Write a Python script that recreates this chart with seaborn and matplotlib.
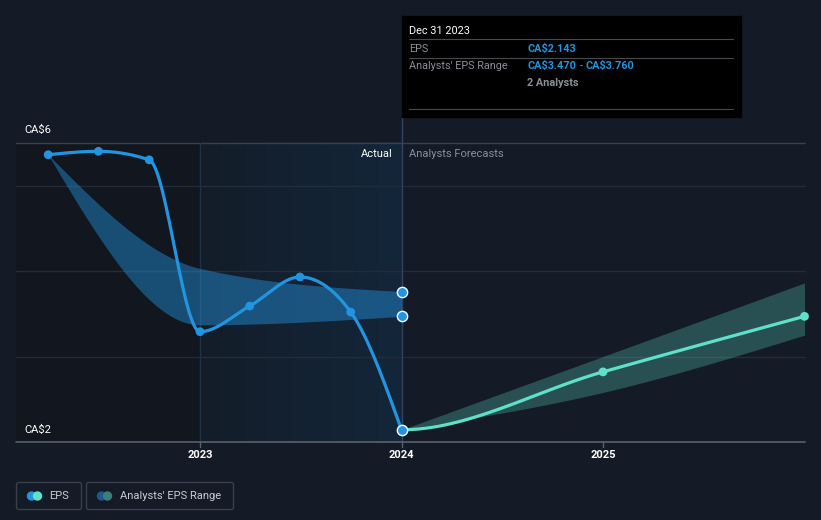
import numpy as np
import pandas as pd
import matplotlib
matplotlib.use("Agg")
import matplotlib.pyplot as plt
from matplotlib.patches import Rectangle, FancyBboxPatch, Circle
import seaborn as sns

# EPS history (CA$)
eps_dates = ["2022-03-31", "2022-06-30", "2022-09-30", "2022-12-31",
             "2023-03-31", "2023-06-30", "2023-09-30", "2023-12-31"]
eps_values = [5.36, 5.40, 5.30, 3.29, 3.59, 3.93, 3.52, 2.143]

# analysts' past EPS range
range_dates = ["2022-03-31", "2022-12-31", "2023-12-31"]
range_low = [5.36, 3.37, 3.47]
range_high = [5.36, 4.03, 3.76]

# analysts' forecasts
fc_dates = ["2023-12-31", "2024-12-31", "2025-12-31"]
fc_values = [2.143, 2.82, 3.47]
fc_low = [2.143, 2.58, 3.25]
fc_high = [2.143, 3.00, 3.86]

year_ticks = [2023, 2024, 2025]

BG = "#151b26"
BLUE = "#2394df"
TEAL = "#5ee0c9"
GREY = "#8a8f98"


def dec_year(dates):
    d = pd.to_datetime(pd.Series(dates))
    return (d.dt.year + d.dt.dayofyear / np.where(d.dt.is_leap_year, 366, 365)).to_numpy()


def monotone(xs, ys, n=60, flat_start=False):
    # d3 curveMonotoneX style smoothing
    xs = np.asarray(xs, float)
    ys = np.asarray(ys, float)
    h = np.diff(xs)
    s = np.diff(ys) / h
    t = np.zeros(len(xs))
    sg = lambda v: -1.0 if v < 0 else 1.0
    for i in range(1, len(xs) - 1):
        p = (s[i - 1] * h[i] + s[i] * h[i - 1]) / (h[i - 1] + h[i])
        t[i] = (sg(s[i - 1]) + sg(s[i])) * min(abs(s[i - 1]), abs(s[i]), 0.5 * abs(p))
    t[0] = 0 if flat_start else (3 * s[0] - t[1]) / 2
    t[-1] = (3 * s[-1] - t[-2]) / 2
    ox, oy = [], []
    for i in range(len(xs) - 1):
        u = np.linspace(0, 1, n)
        h00 = 2 * u**3 - 3 * u**2 + 1
        h10 = u**3 - 2 * u**2 + u
        h01 = -2 * u**3 + 3 * u**2
        h11 = u**3 - u**2
        ox.append(xs[i] + u * h[i])
        oy.append(h00 * ys[i] + h10 * h[i] * t[i] + h01 * ys[i + 1] + h11 * h[i] * t[i + 1])
    return np.concatenate(ox), np.concatenate(oy)


eps_x = dec_year(eps_dates)
rng_x = dec_year(range_dates)
fc_x = dec_year(fc_dates)

sns.set_theme(style="dark")
plt.rcParams["font.family"] = ["Roboto", "DejaVu Sans"]

fig = plt.figure(figsize=(8.21, 5.2), dpi=100, facecolor=BG)
ax = fig.add_axes([0, 0, 1, 1])
ax.set_facecolor(BG)

# pixel <-> data mapping
px_per_year, px_per_unit = 201.5, 85.5
xmin, xmax = 2023 - 200 / px_per_year, 2023 + 621 / px_per_year
ymin, ymax = 2 - 78 / px_per_unit, 2 + 442 / px_per_unit
X = lambda px: 2023 + (px - 200) / px_per_year
Y = lambda py: 2 + (442 - py) / px_per_unit
top, bot = 5.5, 2.0

# past / last-year shading
ax.add_patch(Rectangle((X(16), bot), X(200) - X(16), top - bot, color="#12161e", zorder=0))
grad = np.linspace(0, 1, 256)
c0, c1 = np.array([0x14, 0x1d, 0x29]) / 255, np.array([0x13, 0x26, 0x3a]) / 255
img = (c0[None, :] * (1 - grad[:, None]) + c1[None, :] * grad[:, None])[None, :, :]
ax.imshow(img, extent=[2023, 2024, bot, top], aspect="auto", zorder=0.5)

# grid
for v in [3, 4, 5]:
    ax.plot([X(16), X(805)], [v, v], color="#262c37", lw=1, zorder=1)
ax.plot([X(16), X(805)], [top, top], color="#3b414b", lw=1, zorder=1)
ax.plot([X(16), X(805)], [bot, bot], color="#5b616b", lw=1.2, zorder=3)
ax.plot([2023, 2023], [bot, top], color="#1c3047", lw=1, zorder=1)
ax.plot([2024, 2024], [bot, Y(117)], color="#2d4560", lw=1, zorder=1)
for yr in year_ticks:
    ax.plot([yr, yr], [bot, Y(447)], color="#5b616b", lw=1, zorder=3)
    ax.text(yr, Y(455), str(yr), color="white", fontsize=8, fontweight="bold",
            ha="center", va="center")

# bands
bx, bl = monotone(rng_x, range_low)
_, bh = monotone(rng_x, range_high)
ax.fill_between(bx, bl, bh, color=BLUE, alpha=0.45, lw=0, zorder=2)
fx, fl = monotone(fc_x, fc_low)
_, fh = monotone(fc_x, fc_high)
ax.fill_between(fx, fl, fh, color=TEAL, alpha=0.27, lw=0, zorder=2)

# lines
ex, ey = monotone(eps_x, eps_values)
sns.lineplot(x=ex, y=ey, ax=ax, color=BLUE, lw=2.3, estimator=None, sort=False, zorder=4)
gx, gy = monotone(fc_x, fc_values, flat_start=True)
sns.lineplot(x=gx, y=gy, ax=ax, color=TEAL, lw=2.3, estimator=None, sort=False, zorder=4)

sns.scatterplot(x=eps_x[:-1], y=eps_values[:-1], ax=ax, color=BLUE, s=40,
                edgecolor="none", zorder=5)
sns.scatterplot(x=fc_x[1:], y=fc_values[1:], ax=ax, color=TEAL, s=40,
                edgecolor="none", zorder=5)
sns.scatterplot(x=[rng_x[-1]] * 2 + [eps_x[-1]], y=[range_low[-1], range_high[-1], eps_values[-1]],
                ax=ax, color=BLUE, s=55, edgecolor="white", linewidth=1, zorder=6)

# axis labels
ax.text(X(24), Y(130), "CA$6", color="white", fontsize=8, va="center")
ax.text(X(24), Y(430), "CA$2", color="white", fontsize=8, va="center")
ax.text(X(393), Y(154), "Actual", color="white", fontsize=8, ha="right", va="center")
ax.text(X(409), Y(154), "Analysts Forecasts", color=GREY, fontsize=8, va="center")

ax.set_xlim(xmin, xmax)
ax.set_ylim(ymin, ymax)
ax.axis("off")

# overlay in pixel coords: tooltip + legend
ui = fig.add_axes([0, 0, 1, 1])
ui.set_xlim(0, 821)
ui.set_ylim(520, 0)
ui.axis("off")
ui.patch.set_alpha(0)

ui.add_patch(Rectangle((402, 16), 339, 101, color="black"))
for yy in [39, 58, 109]:
    ui.plot([409, 733], [yy, yy], color="#444a52", lw=0.8)
ui.text(409, 31, "Dec 31 2023", color="white", fontsize=7.8, va="center")
ui.text(409, 48.5, "EPS", color=GREY, fontsize=7.8, va="center")
ui.text(527, 48.5, "CA$2.143", color=BLUE, fontsize=7.8, fontweight="bold", va="center")
ui.text(409, 66, "Analysts' EPS Range", color=GREY, fontsize=7.8, va="center")
ui.text(527, 66, "CA$3.470", color=BLUE, fontsize=7.8, fontweight="bold", va="center")
ui.text(581.5, 66, "-", color=GREY, fontsize=7.8, ha="center", va="center")
ui.text(586, 66, "CA$3.760", color=BLUE, fontsize=7.8, fontweight="bold", va="center")
ui.text(527, 83, "2 Analysts", color=GREY, fontsize=7.8, fontweight="bold", va="center")

for (x0, w, label, ca, cb) in [(16.5, 65, "EPS", BLUE, TEAL),
                                (86.5, 147, "Analysts' EPS Range", "#1f5a87", "#3a7f7a")]:
    ui.add_patch(FancyBboxPatch((x0, 482.5), w, 27, boxstyle="round,pad=0,rounding_size=2",
                                fc="none", ec="#3a404b", lw=1))
    ui.add_patch(Circle((x0 + 15, 496), 4, color=ca))
    ui.add_patch(Circle((x0 + 21, 496), 4, color=cb))
    ui.text(x0 + 33, 496, label, color="#c8cbd0", fontsize=8, va="center")

fig.savefig("out.png", dpi=100, facecolor=BG)
